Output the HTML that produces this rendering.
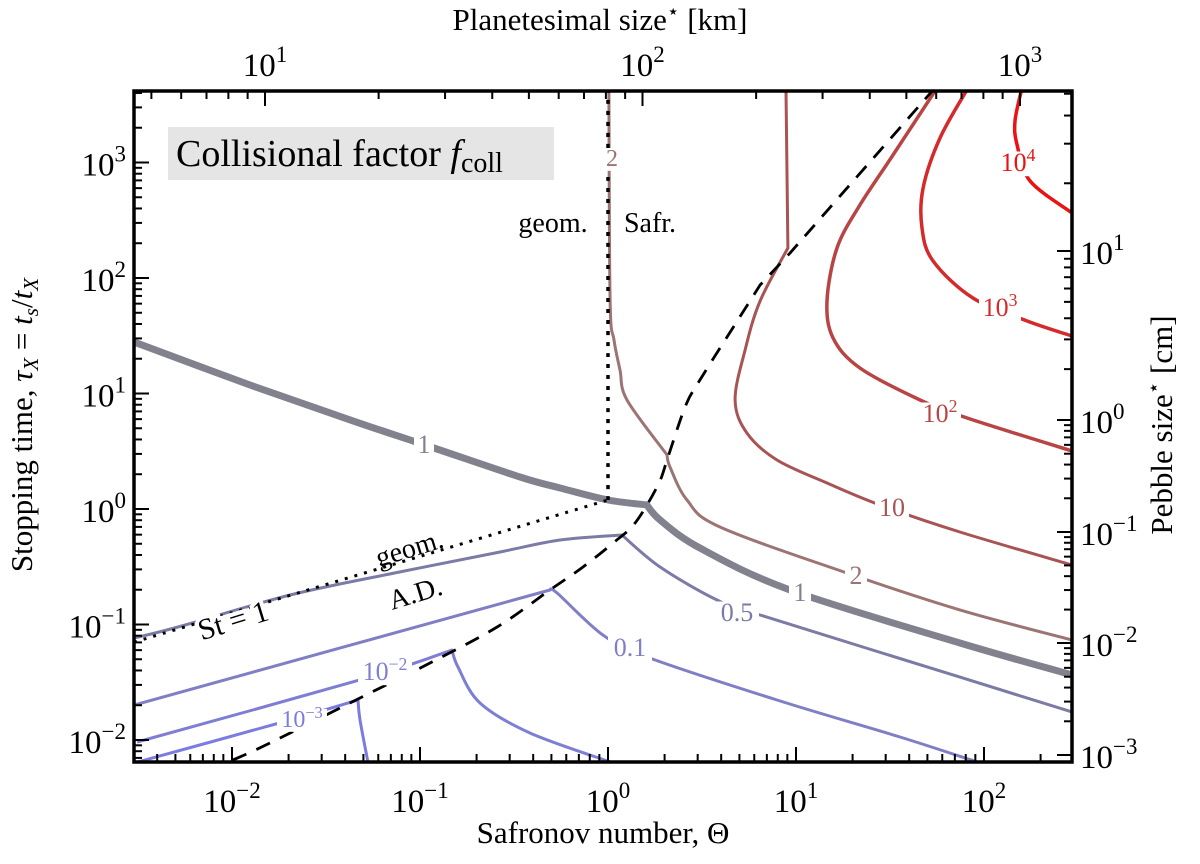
<!DOCTYPE html>
<html><head><meta charset="utf-8"><style>
html,body{margin:0;padding:0;background:#fff;}
svg, svg text, svg tspan{font-family:"Liberation Serif","DejaVu Serif","Noto Serif CJK SC",serif;}
</style></head><body>
<svg id="chart" width="1200" height="859" viewBox="0 0 1200 859" xmlns="http://www.w3.org/2000/svg">
<g id="marks"></g>
<g id="frame"></g>
</svg>
<script>
// log10 data coordinates (Theta, tau)
const c1_lx = [-2.521,-1.904,-1.372,-0.973,-0.468,-0.255,0,0.207,0.277,0.489,0.968,1.872,2.468];
const c1_ly = [1.446,1.074,0.771,0.554,0.277,0.182,0.078,0.035,-0.095,-0.338,-0.701,-1.160,-1.437];
const c2_lx = [0.005,0.011,0.032,0.064,0.101,0.314,0.330,0.420,0.596,1.271,1.872,2.468];
const c2_ly = [3.619,1.810,1.463,1.203,0.944,0.468,0.364,0.078,-0.156,-0.554,-0.874,-1.134];
const c10_lx = [0.947,0.957,0.809,0.729,0.676,0.739,0.899,1.165,1.447,1.872,2.468];
const c10_ly = [3.619,2.260,1.801,1.377,0.944,0.658,0.424,0.225,0.035,-0.199,-0.485];
const c100_lx = [1.750,1.516,1.340,1.218,1.165,1.197,1.340,1.660,1.910,2.468];
const c100_ly = [3.645,3.065,2.632,2.260,1.801,1.481,1.221,0.944,0.788,0.502];
const c1e3_lx = [1.915,1.766,1.676,1.670,1.729,1.941,2.229,2.468];
const c1e3_ly = [3.645,3.212,2.779,2.433,2.147,1.827,1.628,1.498];
const c1e4_lx = [2.202,2.165,2.176,2.245,2.468];
const c1e4_ly = [3.645,3.359,3.152,2.840,2.563];
const c05_lx = [-2.521,-2.287,-1.691,-1.106,-0.574,-0.255,0.074,0.277,0.580,0.809,1.872,2.468];
const c05_ly = [-1.117,-1.022,-0.745,-0.545,-0.372,-0.268,-0.225,-0.502,-0.788,-0.918,-1.455,-1.758];
const c01_lx = [-2.521,-0.309,-0.271,-0.027,0.207,0.899,1.553,1.963];
const c01_ly = [-1.697,-0.701,-0.727,-1.091,-1.281,-1.654,-1.974,-2.190];
const c1em2_lx = [-2.505,-1.266,-0.830,-0.798,-0.681,-0.415,0.011];
const c1em2_ly = [-2.017,-1.455,-1.221,-1.368,-1.680,-1.939,-2.190];
const c1em3_lx = [-2.521,-1.729,-1.330,-1.319,-1.277];
const c1em3_ly = [-2.199,-1.844,-1.654,-1.827,-2.190];
const dash_lx = [1.739,0.968,0.809,0.489,0.410,0.319,0.266,0.144,0.027,-0.133,-0.309,-0.590,-0.947,-1.266,-1.798,-1.995];
const dash_ly = [3.645,2.216,1.939,1.117,0.883,0.450,0.208,-0.121,-0.294,-0.502,-0.701,-1.022,-1.333,-1.593,-2.026,-2.173];
const st1_lx = [-2.521,0];
const st1_ly = [-1.152,0.078];
const safr_lx = [0,0];
const safr_ly = [0.078,3.62];
const xTickExp = [-2,-1,0,1,2];
const yTickExp = [-2,-1,0,1,2,3];
const topTickExp = [1,2,3];
const rightTickExp = [1,0,-1,-2,-3];

const NS = "http://www.w3.org/2000/svg";
const FF = '"Liberation Serif", "DejaVu Serif", "Noto Serif CJK SC", serif';
const L = 134, R = 1072, T = 91, B = 762;
function X(lx){ return 608 + 188*lx; }
function Y(ly){ return 509 - 115.5*ly; }
function TX(lk){ return 265 + 377.5*(lk-1); }
const rightPos = {1:251, 0:420, '-1':532, '-2':643, '-3':755};
const marks = document.getElementById('marks');
const frame = document.getElementById('frame');
function mk(tag, attrs, parent){
  const e = document.createElementNS(NS, tag);
  for (const k in attrs) e.setAttribute(k, attrs[k]);
  if (tag === 'text') e.setAttribute('font-family', FF);
  parent.appendChild(e); return e;
}
const defs = mk('defs', {}, marks);
const cp = mk('clipPath', {id:'clip'}, defs);
mk('rect', {x:L, y:T, width:R-L, height:B-T}, cp);
const g = mk('g', {'clip-path':'url(#clip)'}, marks);



function smoothPath(pts, kinks){
  let d = 'M'+pts[0][0].toFixed(1)+','+pts[0][1].toFixed(1);
  for (let i=0;i<pts.length-1;i++){
    const p1=pts[i], p2=pts[i+1];
    const p0 = (i>0 && !kinks.includes(i)) ? pts[i-1] : p1;
    const p3 = (i+2<pts.length && !kinks.includes(i+1)) ? pts[i+2] : p2;
    const c1x = p1[0]+(p2[0]-p0[0])/6, c1y = p1[1]+(p2[1]-p0[1])/6;
    const c2x = p2[0]-(p3[0]-p1[0])/6, c2y = p2[1]-(p3[1]-p1[1])/6;
    d += ' C'+c1x.toFixed(1)+','+c1y.toFixed(1)+' '+c2x.toFixed(1)+','+c2y.toFixed(1)+' '+p2[0].toFixed(1)+','+p2[1].toFixed(1);
  }
  return d;
}
function line(lx, ly, stroke, w, name, dash, kinks){
  const pts = lx.map((v,i)=>[X(v), Y(ly[i])]);
  const p = mk('path', {d:smoothPath(pts, kinks||[]), fill:'none', stroke:stroke, 'stroke-width':w, 'stroke-linejoin':'round'}, g);
  if (dash) p.setAttribute('stroke-dasharray', dash);
  
  
  return p;
}
line(c1em3_lx, c1em3_ly, '#7c7ce0', 3, 'contour-1e-3', null, [2]);
line(c1em2_lx, c1em2_ly, '#7e7ed4', 3, 'contour-1e-2', null, [2]);
line(c01_lx, c01_ly, '#7f7fc6', 3, 'contour-0.1', null, [1]);
line(c05_lx, c05_ly, '#7b7ba6', 3, 'contour-0.5', null, [6]);
line(c1_lx, c1_ly, '#82828f', 7, 'contour-1', null, [7]);
line(c2_lx, c2_ly, '#9c7474', 3, 'contour-2', null, [5]);
line(c10_lx, c10_ly, '#a85454', 3, 'contour-10', null, [1]);
line(c100_lx, c100_ly, '#b84444', 3.5, 'contour-100');
line(c1e3_lx, c1e3_ly, '#d42a2a', 3.5, 'contour-1e3');
line(c1e4_lx, c1e4_ly, '#ea1212', 3.5, 'contour-1e4');
line(dash_lx, dash_ly, '#000', 2.8, 'regime-boundary-dashed', '15,11', [1,2]);
line(st1_lx, st1_ly, '#000', 3, 'st-equals-1-dotted', '3,7');
line(safr_lx, safr_ly, '#000', 3.5, 'safronov-boundary-dotted', '4,7');

function label(x, y, txt, col, size, sup, name, bgw){
  if (bgw){ const r = mk('rect', {x:x-bgw/2, y:y-size*0.75, width:bgw, height:size*0.95, fill:'#fff'}, marks);
      }
  const t = mk('text', {x:x, y:y, fill:col, 'font-size':size, 'text-anchor':'middle'}, marks);
  t.textContent = txt;
  if (sup){ const s = mk('tspan', {'font-size':size*0.68, dy:-size*0.38}, t); s.textContent = sup; }
  
  
  return t;
}
label(612, 166, '2', '#9c7474', 24, null, 'label-2-top', 16);
label(424, 453, '1', '#82828f', 26, null, 'label-1-left', 20);
label(800, 601, '1', '#82828f', 26, null, 'label-1-right', 22);
label(856, 584, '2', '#9c7474', 26, null, 'label-2-right', 22);
label(737, 621, '0.5', '#7b7ba6', 26, null, 'label-0.5', 44);
label(630, 656, '0.1', '#7f7fc6', 26, null, 'label-0.1', 44);
label(385, 680, '10', '#7e7ed4', 26, '−2', 'label-1e-2', 54);
label(302, 727, '10', '#7c7ce0', 24, '−3', 'label-1e-3', 50);
label(892, 516, '10', '#a85454', 26, null, 'label-10', 34);
label(940, 422, '10', '#b84444', 26, '2', 'label-100', 42);
label(1000, 316, '10', '#d42a2a', 26, '3', 'label-1e3', 42);
label(1018, 171, '10', '#ea1212', 26, '4', 'label-1e4', 42);

function ann(x,y,txt,rot,size,name,bg){
  const t = mk('text', {x:x, y:y, 'font-size':size, 'text-anchor':'middle', transform:'rotate('+rot+' '+x+' '+y+')'}, marks);
  if (bg){ t.setAttribute('stroke','#fff'); t.setAttribute('stroke-width','8'); t.setAttribute('paint-order','stroke'); }
  t.textContent = txt;
  
  
}
ann(236, 630, 'St = 1', -17, 30, 'st1-annotation', true);
ann(412, 557, 'geom.', -17, 28, 'geom-ad-annotation', false);
ann(418, 602, 'A.D.', -17, 28, 'ad-annotation', false);
ann(553, 232, 'geom.', 0, 28, 'geom-safr-annotation', false);
ann(650, 232, 'Safr.', 0, 28, 'safr-annotation', false);
const tb = mk('rect', {x:168, y:127, width:386, height:53, fill:'#e5e5e5'}, marks);
 
const tt = mk('text', {x:176, y:166, 'font-size':38}, marks);
 
tt.innerHTML = 'Collisional factor <tspan font-style="italic">f</tspan><tspan font-size="28" dy="6">coll</tspan>';

const fr = mk('rect', {x:L, y:T, width:R-L, height:B-T, fill:'none', stroke:'#000', 'stroke-width':3.5}, frame);
 
function tick(x1,y1,x2,y2,name){ const l = mk('line',{x1:x1,y1:y1,x2:x2,y2:y2,stroke:'#000','stroke-width':2},frame);
    }
function tlabel(x,y,exp,anchor,name){
  const t = mk('text',{x:x,y:y,'font-size':33,'text-anchor':anchor},frame);
  t.textContent = '10';
  const s = mk('tspan',{'font-size':23,dy:-14},t); s.textContent = String(exp).replace('-','−');
   
}
const lg = [0.301,0.477,0.602,0.699,0.778,0.845,0.903,0.954];
for (let d=-3; d<=2; d++){
  const x0 = X(d);
  if (x0>=L && x0<=R) { tick(x0,B,x0,B-15,'x-major-tick'); tlabel(x0,812,d,'middle','x-tick-label'); }
  lg.forEach(v=>{ const x=X(d+v); if(x>L&&x<R) tick(x,B,x,B-8,'x-minor-tick'); });
}
for (let d=-3; d<=3; d++){
  const y0 = Y(d);
  if (y0>=T && y0<=B) { tick(L,y0,L+15,y0,'y-major-tick'); tlabel(L-8,y0+13,d,'end','y-tick-label'); }
  lg.forEach(v=>{ const y=Y(d+v); if(y>T&&y<B) tick(L,y,L+8,y,'y-minor-tick'); });
}
for (let d=0; d<=3; d++){
  const x0 = TX(d);
  if (x0>=L && x0<=R) { tick(x0,T,x0,T+15,'top-major-tick'); tlabel(x0,76,d,'middle','top-tick-label'); }
  lg.forEach(v=>{ const x=TX(d+v); if(x>L&&x<R) tick(x,T,x,T+8,'top-minor-tick'); });
}
const rightDec = {1:225, 0:169, '-1':112, '-2':111, '-3':112};
rightTickExp.forEach(d=>{
  const y0 = rightPos[d];
  tick(R,y0,R-15,y0,'right-major-tick');
  tlabel(R+8,y0+13,d,'start','right-tick-label');
  lg.forEach(v=>{ const y=y0-rightDec[d]*v; if(y>T&&y<B) tick(R,y,R-8,y,'right-minor-tick'); });
});
function title(x,y,rot,html,name){
  const t = mk('text',{x:x,y:y,'font-size':31,'text-anchor':'middle',transform:'rotate('+rot+' '+x+' '+y+')'},frame);
  t.innerHTML = html;  
}
title(603, 843, 0, 'Safronov number, Θ', 'x-axis-title');
title(600, 30, 0, 'Planetesimal size<tspan font-size="20" dy="-12">⋆</tspan><tspan dy="12"> [km]</tspan>', 'top-axis-title');
title(32, 425, -90, 'Stopping time, <tspan font-style="italic">τ</tspan><tspan font-size="21" font-style="italic" dy="6">X</tspan><tspan dy="-6"> = </tspan><tspan font-style="italic">t</tspan><tspan font-size="21" font-style="italic" dy="6">s</tspan><tspan dy="-6">/</tspan><tspan font-style="italic">t</tspan><tspan font-size="21" font-style="italic" dy="6">X</tspan>', 'y-axis-title');
title(1172, 425, -90, 'Pebble size<tspan font-size="20" dy="-12">⋆</tspan><tspan dy="12"> [cm]</tspan>', 'right-axis-title');
</script>
</body></html>
